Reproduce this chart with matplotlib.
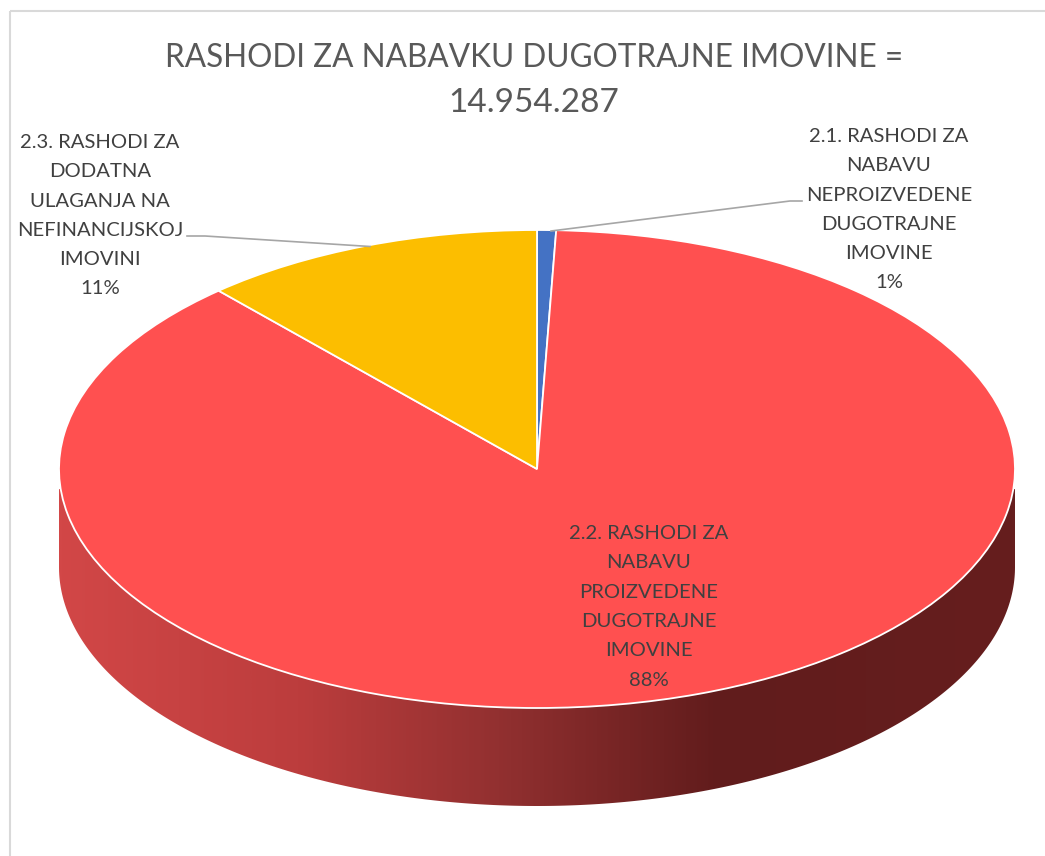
import numpy as np
import matplotlib
matplotlib.use('Agg')
import matplotlib.pyplot as plt
from matplotlib.colors import LinearSegmentedColormap
from matplotlib.patches import Polygon, Rectangle

plt.rcParams['font.family'] = ['Lato', 'DejaVu Sans']

# Slice sizes (the printed labels are rounded)
categories = ['2.1. RASHODI ZA\nNABAVU\nNEPROIZVEDENE\nDUGOTRAJNE\nIMOVINE',
              '2.2. RASHODI ZA\nNABAVU\nPROIZVEDENE\nDUGOTRAJNE\nIMOVINE',
              '2.3. RASHODI ZA\nDODATNA\nULAGANJA NA\nNEFINANCIJSKOJ\nIMOVINI']
shares = [0.64, 87.76, 11.6]
printed_pct = ['1%', '88%', '11%']
colors = ['#4472C4', '#FF5050', '#FCBE00']
title_lines = ['RASHODI ZA NABAVKU DUGOTRAJNE IMOVINE =', '14.954.287']

W, H = 1045, 856
CX, CY, RX, RY = 537, 469, 478, 239
DEPTH = 98

fig = plt.figure(figsize=(W/100, H/100), dpi=100, facecolor='white')

# pixel coordinates axes for frame and pie side
bg = fig.add_axes([0, 0, 1, 1], zorder=0)
bg.set_xlim(0, W)
bg.set_ylim(H, 0)
bg.axis('off')
bg.add_patch(Rectangle((10, 11), W+20, H+20, fc='none', ec='#d9d9d9', lw=1.5))

# side wall: horizontal gradient clipped to the lower half of the ellipse
t = np.linspace(0, np.pi, 300)
side_x = CX + RX*np.cos(t)
side_y = CY + RY*np.sin(t) + DEPTH
outline = np.column_stack([np.r_[CX+RX, side_x, CX-RX], np.r_[CY+20, side_y, CY+20]])
side_cmap = LinearSegmentedColormap.from_list('side', [
    (0.0, '#D24747'), (0.25, '#BC3D3D'), (0.46, '#923030'),
    (0.69, '#611C1C'), (1.0, '#661E1E')])
img = bg.imshow(np.linspace(0, 1, 512)[None, :], cmap=side_cmap, aspect='auto',
                extent=(CX-RX, CX+RX, CY+RY+DEPTH, CY), zorder=1)
bg.set_xlim(0, W)
bg.set_ylim(H, 0)
img.set_clip_path(Polygon(outline, transform=bg.transData))

# top of the pie: unit circle stretched to an ellipse by the axes shape
pie_ax = fig.add_axes([(CX-RX)/W, 1-(CY+RY)/H, 2*RX/W, 2*RY/H], zorder=1)
pie_ax.patch.set_alpha(0)
pie_ax.pie(shares, colors=colors, startangle=90, counterclock=False, radius=1,
           wedgeprops=dict(edgecolor='white', linewidth=1.3, clip_on=False))
pie_ax.set_aspect('auto')
pie_ax.set_xlim(-1, 1)
pie_ax.set_ylim(-1, 1)

# labels and leader lines
top = fig.add_axes([0, 0, 1, 1], zorder=2)
top.set_xlim(0, W)
top.set_ylim(H, 0)
top.axis('off')
top.patch.set_alpha(0)

# each line placed on its own baseline to get the wide line pitch
top.text(534, 67, title_lines[0], ha='center', va='baseline', fontsize=22.7, color='#595959')
top.text(534, 112, title_lines[1], ha='center', va='baseline', fontsize=24, color='#595959')

label_pos = [(889, 142), (649, 539), (100, 148)]
LINE_STEP = 29.3
for lab, pct, (x, y) in zip(categories, printed_pct, label_pos):
    for i, line in enumerate(lab.split('\n') + [pct]):
        top.text(x, y + i*LINE_STEP, line, ha='center', va='baseline', fontsize=14.6, color='#404040')

top.plot([551, 790, 802], [231, 201, 201], color='#a6a6a6', lw=1.2)
top.plot([187, 205, 370], [236, 236, 246.5], color='#a6a6a6', lw=1.2)

fig.savefig('out.png', dpi=100)
